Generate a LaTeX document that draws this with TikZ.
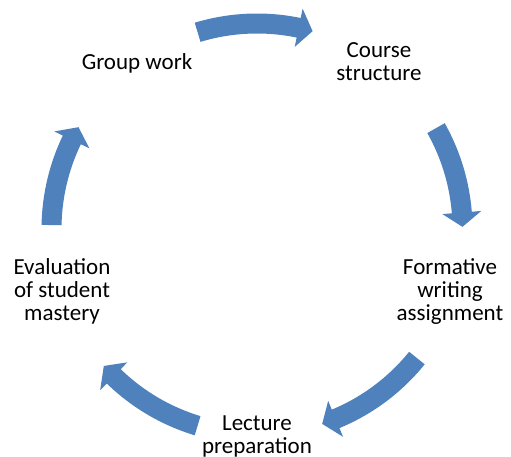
\documentclass[tikz,border=0pt]{standalone}
\usepackage{fontspec}
\setmainfont{Carlito}
\usepackage{tikz}
\usetikzlibrary{positioning}
\definecolor{cycblue}{RGB}{79,129,189}

\begin{document}
\begin{tikzpicture}[x=0.5pt, y=0.5pt,
  lbl/.style={align=center, inner sep=0pt, font=\fontsize{11.5}{11.5}\selectfont, text=black},
  cycarrow/.style={fill=cycblue, draw=none},
]
  \useasboundingbox (0,0) rectangle (511,457);
  \coordinate (C) at (257,228);

  \node[lbl] (grp)  at (137,394) {Group work};
  \node[lbl] (crs)  at (379,395) {Course\\structure};
  \node[lbl] (form) at (450,165) {Formative\\writing\\assignment};
  \node[lbl] (lect) at (257,21)  {Lecture\\preparation};
  \node[lbl] (eval) at (62,166)  {Evaluation\\of student\\mastery};

  % curved block arrows, tail angle / tip angle
  \foreach \ta/\tb in {106.8/74.3, 29.4/0.6, 321.1/288.5, 253.2/221.8, 178.9/150.3}{
    \pgfmathsetmacro{\hd}{\tb+4}
    \fill[cycarrow, shift={(C)}] (\ta:215.5) arc[start angle=\ta, end angle=\hd, radius=215.5]
      -- (\hd:225) -- (\tb:205.5) -- (\hd:186) -- (\hd:195.5)
      arc[start angle=\hd, end angle=\ta, radius=195.5] -- cycle;
  }
\end{tikzpicture}
\end{document}
